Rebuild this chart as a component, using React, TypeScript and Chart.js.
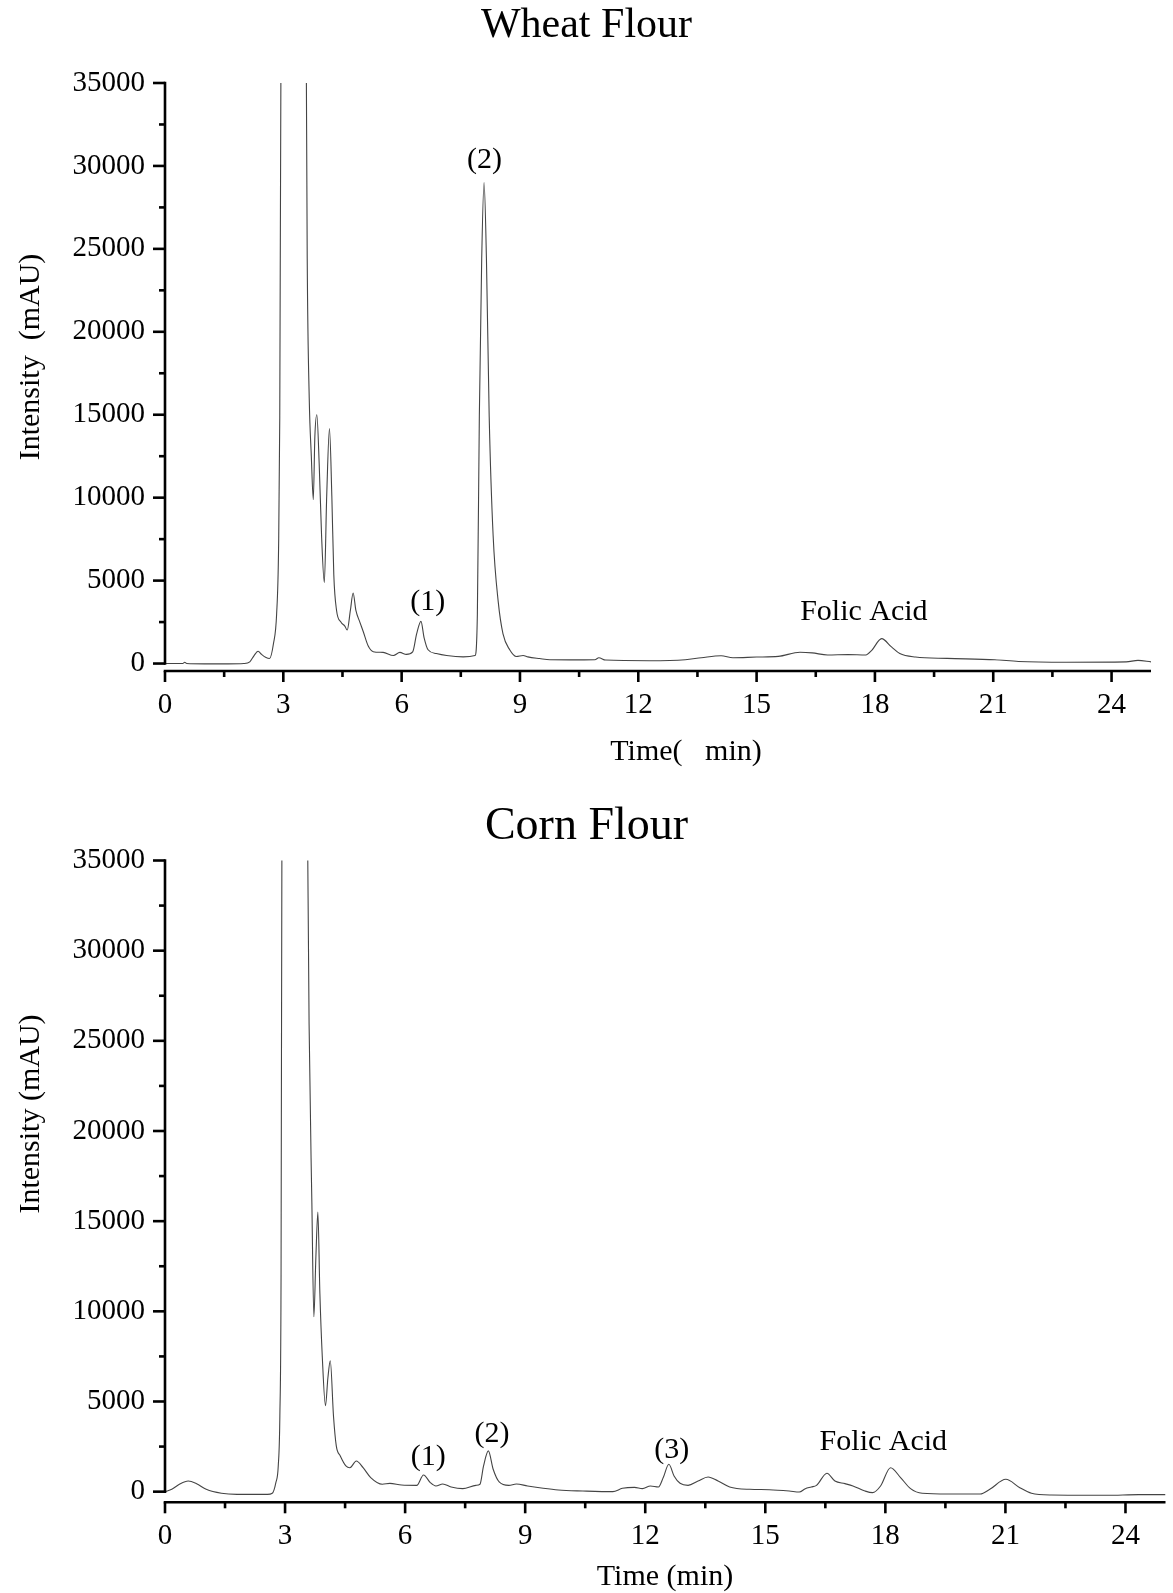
import React, { useEffect, useRef } from 'react';
import { Chart, registerables } from 'chart.js';

Chart.register(...registerables);

// ---------- data ----------
const wheatTime = [
  0, 0.45, 0.5, 0.55, 1.0, 1.6, 2.0, 2.15, 2.25, 2.36, 2.45, 2.55, 2.65, 2.75, 2.83, 2.88, 2.91, 2.945, 3.26, 3.575,
  3.606, 3.657, 3.71, 3.76, 3.8, 3.85, 3.91, 3.97, 4.04, 4.1, 4.17, 4.23, 4.28, 4.35, 4.46, 4.56, 4.62, 4.7, 4.77, 4.84,
  4.94, 5.03, 5.15, 5.28, 5.53, 5.79, 5.955, 6.12, 6.28, 6.38, 6.49, 6.57, 6.67, 6.88, 7.14, 7.56, 7.86, 7.92, 7.97, 8.03,
  8.09, 8.15, 8.22, 8.32, 8.45, 8.57, 8.74, 8.91, 9.08, 9.2, 9.5, 9.76, 10.5, 10.9, 11.0, 11.17, 12.28, 13.19, 13.6, 14.1,
  14.4, 15.0, 15.55, 16.1, 16.41, 16.8, 17.32, 17.77, 17.92, 18.17, 18.42, 18.63, 19.03, 19.83, 21.04, 21.64, 22.85, 24.37, 24.67, 25.0,
];
const wheatIntensity = [
  0, 0, 80, 0, -20, -20, 0, 100, 450, 740, 550, 380, 300, 1200, 2975, 7000, 14900, 40000, 80000, 40000,
  24400, 16000, 12500, 9880, 13700, 15000, 12000, 7700, 4880, 10100, 14160, 10100, 5350, 3200, 2500, 2260, 2020, 3200, 4250, 3200,
  2500, 1900, 1070, 714, 670, 480, 670, 550, 700, 1790, 2540, 1550, 830, 600, 480, 400, 480, 2975, 14900, 24400,
  29000, 24400, 14900, 7700, 3700, 1790, 830, 420, 480, 400, 300, 230, 220, 230, 350, 210, 170, 230, 350, 470,
  350, 390, 430, 680, 640, 515, 540, 515, 800, 1500, 1000, 600, 390, 310, 230, 125, 80, 100, 190, 100,
];

const cornTime = [
  0, 0.17, 0.36, 0.58, 0.79, 1.03, 1.41, 1.8, 2.56, 2.68, 2.77, 2.83, 2.87, 2.9, 2.925, 3.24, 3.55, 3.6, 3.67, 3.72,
  3.77, 3.82, 3.87, 3.93, 4.01, 4.07, 4.13, 4.21, 4.28, 4.38, 4.52, 4.62, 4.78, 4.95, 5.14, 5.43, 5.62, 5.91, 6.29, 6.46,
  6.63, 6.77, 6.94, 7.15, 7.44, 7.77, 7.87, 7.96, 8.08, 8.2, 8.35, 8.59, 8.78, 9.06, 9.45, 9.83, 10.44, 11.19, 11.43, 11.73,
  11.93, 12.13, 12.33, 12.45, 12.59, 12.72, 12.87, 13.07, 13.32, 13.57, 13.82, 14.11, 14.61, 15.1, 15.6, 15.85, 16.0, 16.15, 16.28, 16.54,
  16.74, 16.99, 17.19, 17.49, 17.68, 17.88, 18.13, 18.38, 18.63, 18.92, 19.57, 20.37, 20.61, 21.01, 21.36, 21.65, 22.15, 23.54, 24.33, 25.0,
];
const cornIntensity = [
  0, 130, 410, 590, 440, 130, -90, -150, -150, -90, 500, 1430, 4200, 12000, 40000, 80000, 40000, 26000, 16000, 9700,
  13000, 15500, 11000, 7500, 4760, 6300, 7260, 4200, 2540, 1980, 1430, 1330, 1700, 1330, 780, 410, 460, 370, 350, 925,
  500, 315, 425, 260, 170, 350, 410, 1430, 2260, 1240, 540, 350, 425, 315, 185, 90, 37, 0, 185, 240,
  167, 315, 260, 780, 1520, 870, 463, 350, 590, 815, 590, 260, 130, 110, 37, -20, 167, 260, 350, 1020,
  590, 445, 315, 37, -55, 315, 1330, 780, 167, -90, -130, -130, 130, 685, 220, -90, -185, -200, -165, -165,
];

const xTickValues = [0, 1.5, 3, 4.5, 6, 7.5, 9, 10.5, 12, 13.5, 15, 16.5, 18, 19.5, 21, 22.5, 24];
const xMajorStep = 3;
const yTickValues = [0, 2500, 5000, 7500, 10000, 12500, 15000, 17500, 20000, 22500, 25000, 27500, 30000, 32500, 35000];
const yMajorStep = 5000;

const wheatLabelText = ['(1)', '(2)', 'Folic Acid'];
const wheatLabelTime = [6.66, 8.1, 17.72];
const wheatLabelValue = [3710, 30370, 3110];

const cornLabelText = ['(1)', '(2)', '(3)', 'Folic Acid'];
const cornLabelTime = [6.58, 8.17, 12.66, 17.95];
const cornLabelValue = [1940, 3200, 2310, 2720];

const FONT = "'Liberation Serif', 'Times New Roman', serif";

type Cfg = {
  height: number;
  title: string;
  titleSize: number;
  titleY: number;
  xTitle: string;
  xTitleX: number;
  xTitleY: number;
  yTitle: string;
  yTitleX: number;
  yTitleY: number;
  padTop: number;
  padRight: number;
  xAxisHeight: number;
  yMin: number;
  times: number[];
  values: number[];
  labelText: string[];
  labelTime: number[];
  labelValue: number[];
};

function decorPlugin(cfg: Cfg) {
  return {
    id: 'decor',
    afterDraw(chart: any) {
      const { ctx, chartArea } = chart;
      const xs = chart.scales.x;
      const ys = chart.scales.y;
      ctx.save();
      ctx.strokeStyle = '#000';
      ctx.fillStyle = '#000';
      ctx.lineWidth = 2.6;
      ctx.lineCap = 'butt';
      // y axis line
      const yTop = ys.getPixelForValue(yTickValues[yTickValues.length - 1]) - 1.3;
      const yZero = ys.getPixelForValue(0) + 1.3;
      ctx.beginPath();
      ctx.moveTo(chartArea.left, yTop);
      ctx.lineTo(chartArea.left, yZero);
      ctx.stroke();
      // x axis line
      ctx.beginPath();
      ctx.moveTo(xs.getPixelForValue(0) - 1.3, chartArea.bottom);
      ctx.lineTo(xs.getPixelForValue(xs.max), chartArea.bottom);
      ctx.stroke();
      // x ticks
      for (const v of xTickValues) {
        const px = xs.getPixelForValue(v);
        const len = v % xMajorStep === 0 ? 11 : 6;
        ctx.beginPath();
        ctx.moveTo(px, chartArea.bottom);
        ctx.lineTo(px, chartArea.bottom + len);
        ctx.stroke();
      }
      // y ticks
      for (const v of yTickValues) {
        const py = ys.getPixelForValue(v);
        const len = v % yMajorStep === 0 ? 12 : 6;
        ctx.beginPath();
        ctx.moveTo(chartArea.left, py);
        ctx.lineTo(chartArea.left - len, py);
        ctx.stroke();
      }
      // chart title
      ctx.textAlign = 'center';
      ctx.textBaseline = 'middle';
      ctx.font = `${cfg.titleSize}px ${FONT}`;
      ctx.fillText(cfg.title, chart.width / 2, cfg.titleY);
      // axis titles
      ctx.font = `30px ${FONT}`;
      ctx.fillText(cfg.xTitle, cfg.xTitleX, cfg.xTitleY);
      ctx.save();
      ctx.translate(cfg.yTitleX, cfg.yTitleY);
      ctx.rotate(-Math.PI / 2);
      ctx.fillText(cfg.yTitle, 0, 0);
      ctx.restore();
      // peak annotations
      ctx.font = `30px ${FONT}`;
      cfg.labelText.forEach((t, i) => {
        ctx.fillText(t, xs.getPixelForValue(cfg.labelTime[i]), ys.getPixelForValue(cfg.labelValue[i]));
      });
      ctx.restore();
    },
  };
}

function ChromChart({ cfg }: { cfg: Cfg }) {
  const ref = useRef<HTMLCanvasElement | null>(null);
  useEffect(() => {
    if (!ref.current) return;
    const data = cfg.times.map((t, i) => ({ x: t, y: cfg.values[i] }));
    const chart = new Chart(ref.current, {
      type: 'scatter',
      data: {
        datasets: [
          {
            data,
            showLine: true,
            borderColor: '#444444',
            borderWidth: 1.1,
            pointRadius: 0,
            cubicInterpolationMode: 'monotone',
            fill: false,
          } as any,
        ],
      },
      options: {
        responsive: false,
        animation: false,
        events: [],
        layout: { padding: { top: cfg.padTop, right: cfg.padRight, left: 0, bottom: 0 } },
        plugins: { legend: { display: false }, title: { display: false }, tooltip: { enabled: false } },
        scales: {
          x: {
            type: 'linear',
            min: 0,
            max: 25,
            border: { display: false },
            grid: { display: true, drawOnChartArea: false, drawTicks: true, tickLength: 11, tickColor: 'rgba(0,0,0,0)' },
            afterBuildTicks: (s: any) => {
              s.ticks = xTickValues.map((v) => ({ value: v }));
            },
            afterFit: (s: any) => {
              s.height = cfg.xAxisHeight;
            },
            ticks: {
              autoSkip: false,
              maxRotation: 0,
              padding: 6,
              color: '#000',
              font: { family: FONT, size: 29 },
              callback: (v: any) => (Number(v) % xMajorStep === 0 ? String(v) : ''),
            },
          },
          y: {
            type: 'linear',
            min: cfg.yMin,
            max: 35000,
            border: { display: false },
            grid: { display: true, drawOnChartArea: false, drawTicks: true, tickLength: 12, tickColor: 'rgba(0,0,0,0)' },
            afterBuildTicks: (s: any) => {
              s.ticks = yTickValues.map((v) => ({ value: v }));
            },
            afterFit: (s: any) => {
              s.width = 165;
            },
            ticks: {
              autoSkip: false,
              padding: 8,
              color: '#000',
              font: { family: FONT, size: 29 },
              callback: (v: any) => (Number(v) % yMajorStep === 0 ? String(v) : ''),
            },
          },
        },
      } as any,
      plugins: [decorPlugin(cfg)],
    });
    return () => chart.destroy();
  }, [cfg]);
  return <canvas ref={ref} width={1173} height={cfg.height} style={{ display: 'block' }} />;
}

const wheatCfg: Cfg = {
  height: 790,
  title: 'Wheat Flour',
  titleSize: 42,
  titleY: 26,
  xTitle: 'Time(   min)',
  xTitleX: 686,
  xTitleY: 752,
  yTitle: 'Intensity  (mAU)',
  yTitleX: 31,
  yTitleY: 357,
  padTop: 83,
  padRight: 22,
  xAxisHeight: 119,
  yMin: -450,
  times: wheatTime,
  values: wheatIntensity,
  labelText: wheatLabelText,
  labelTime: wheatLabelTime,
  labelValue: wheatLabelValue,
};

const cornCfg: Cfg = {
  height: 803,
  title: 'Corn Flour',
  titleSize: 46,
  titleY: 37,
  xTitle: 'Time (min)',
  xTitleX: 665,
  xTitleY: 787,
  yTitle: 'Intensity (mAU)',
  yTitleX: 31,
  yTitleY: 324,
  padTop: 70.5,
  padRight: 7.5,
  xAxisHeight: 90.7,
  yMin: -590,
  times: cornTime,
  values: cornIntensity,
  labelText: cornLabelText,
  labelTime: cornLabelTime,
  labelValue: cornLabelValue,
};

export default function App() {
  return (
    <div style={{ position: 'absolute', left: 0, top: 0, width: 1173, height: 1593, background: '#fff' }}>
      <ChromChart cfg={wheatCfg} />
      <ChromChart cfg={cornCfg} />
    </div>
  );
}
